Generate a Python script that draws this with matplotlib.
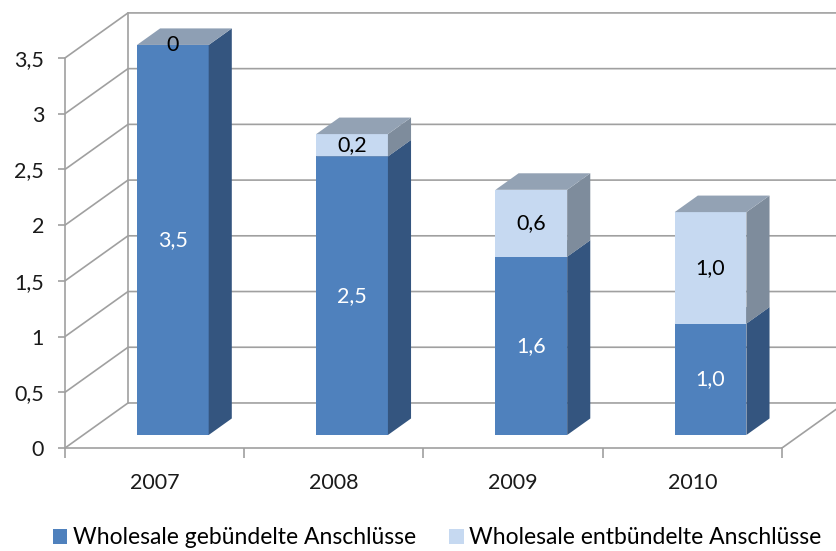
import matplotlib
matplotlib.use('Agg')
import matplotlib.pyplot as plt
from matplotlib.patches import Polygon, Patch

# data
years = ['2007', '2008', '2009', '2010']
gebuendelt = [3.5, 2.5, 1.6, 1.0]
entbuendelt = [0.0, 0.2, 0.6, 1.0]
label_geb = ['3,5', '2,5', '1,6', '1,0']
label_ent = ['0', '0,2', '0,6', '1,0']
y_ticks = [0, 0.5, 1, 1.5, 2, 2.5, 3, 3.5]
y_ticklabels = ['0', '0,5', '1', '1,5', '2', '2,5', '3', '3,5']
series_names = ['Wholesale gebündelte Anschlüsse', 'Wholesale entbündelte Anschlüsse']

plt.rcParams['font.family'] = ['Lato', 'DejaVu Sans']

# colours (front, side, top)
dark = ('#4F81BD', '#34557F', '#8E9FB4')
light = ('#C6D9F1', '#7E8C9C', '#93A2B4')
grid_c = '#A0A0A0'
FS = 15.5

# fake 3d geometry, in data units
DX, DY = 0.3515, 0.404      # full depth of the floor
Z0 = 0.289                  # where the bars stand inside the depth
DZ = 0.367                  # bar depth
W = 0.40                    # bar width
YMAX = 3.5

fig = plt.figure(figsize=(8.37, 5.51), dpi=100)
ax = fig.add_axes([65 / 837, 103 / 551, 772 / 837, 448 / 551])
ax.set_xlim(-0.5, 3.807)
ax.set_ylim(0, 4.02)

# walls and grid
x0 = -0.5
for v in y_ticks:
    ax.plot([x0, x0 + DX, 4.0], [v, v + DY, v + DY], color=grid_c, lw=1.2, zorder=1)
ax.plot([x0 + DX, x0 + DX], [DY, YMAX + DY], color=grid_c, lw=1.2, zorder=1)
ax.plot([3.5, 3.5 + DX], [0, DY], color=grid_c, lw=1.2, zorder=1)


def box(xl, yb, h, cols):
    ox, oy = Z0 * DX, Z0 * DY
    ddx, ddy = DZ * DX, DZ * DY
    fx, fy = xl + ox, yb + oy
    front = [(fx, fy), (fx + W, fy), (fx + W, fy + h), (fx, fy + h)]
    side = [(fx + W, fy), (fx + W + ddx, fy + ddy), (fx + W + ddx, fy + h + ddy), (fx + W, fy + h)]
    top = [(fx, fy + h), (fx + W, fy + h), (fx + W + ddx, fy + h + ddy), (fx + ddx, fy + h + ddy)]
    ax.add_patch(Polygon(front, closed=True, fc=cols[0], ec='none', zorder=3))
    ax.add_patch(Polygon(side, closed=True, fc=cols[1], ec='none', zorder=3))
    ax.add_patch(Polygon(top, closed=True, fc=cols[2], ec='none', zorder=3))


for i in range(len(years)):
    xl = i - W / 2
    box(xl, 0, gebuendelt[i], dark)
    if entbuendelt[i] > 0:
        box(xl, gebuendelt[i], entbuendelt[i], light)
    cx = i + Z0 * DX
    ax.text(cx, gebuendelt[i] / 2 + Z0 * DY, label_geb[i], color='white',
            ha='center', va='center', fontsize=FS, zorder=5)
    ax.text(cx, gebuendelt[i] + entbuendelt[i] / 2 + Z0 * DY, label_ent[i], color='black',
            ha='center', va='center', fontsize=FS, zorder=5)

# axes
for s in ['top', 'right']:
    ax.spines[s].set_visible(False)
ax.spines['left'].set_bounds(0, YMAX)
ax.spines['bottom'].set_bounds(-0.5, 3.5)
for s in ['left', 'bottom']:
    ax.spines[s].set_color(grid_c)
    ax.spines[s].set_linewidth(1.2)
ax.set_yticks(y_ticks)
ax.set_yticklabels(y_ticklabels)
ax.set_xticks(range(len(years)))
ax.set_xticklabels(years)
ax.set_xticks([-0.5, 0.5, 1.5, 2.5, 3.5], minor=True)
ax.tick_params(axis='x', which='major', length=0, pad=18, labelsize=FS, labelcolor='#1a1a1a')
ax.tick_params(axis='x', which='minor', length=7, color=grid_c, width=1.2)
ax.tick_params(axis='y', length=5, color=grid_c, width=1.2, pad=10, labelsize=FS,
               labelcolor='#1a1a1a')

handles = [Patch(fc=dark[0]), Patch(fc=light[0])]
fig.legend(handles, series_names, loc='center left', bbox_to_anchor=(53 / 837, 13 / 551),
           ncol=2, frameon=False, fontsize=16.5, handlelength=0.62, handleheight=0.62,
           handletextpad=0.25, columnspacing=1.45, borderaxespad=0, borderpad=0)

fig.savefig('out.png', dpi=100)
